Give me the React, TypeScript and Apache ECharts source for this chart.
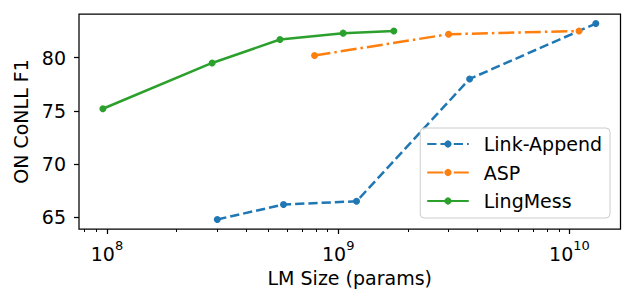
import React, { useEffect, useRef } from 'react';
import * as echarts from 'echarts';

const seriesNames = ['Link-Append', 'ASP', 'LingMess'];
const linkAppendX = [3.0e8, 5.8e8, 1.2e9, 3.7e9, 1.3e10];
const linkAppendY = [64.8, 66.2, 66.5, 78.0, 83.2];
const aspX = [7.9e8, 3.0e9, 1.1e10];
const aspY = [80.2, 82.2, 82.5];
const lingMessX = [9.6e7, 2.85e8, 5.6e8, 1.05e9, 1.74e9];
const lingMessY = [75.2, 79.5, 81.7, 82.3, 82.5];

const xMajorTicks = [1e8, 1e9, 1e10];
const xMinorTicks = [
  8e7, 9e7,
  2e8, 3e8, 4e8, 5e8, 6e8, 7e8, 8e8, 9e8,
  2e9, 3e9, 4e9, 5e9, 6e9, 7e9, 8e9, 9e9,
];
const yTicks = [65, 70, 75, 80];

const xTitle = 'LM Size (params)';
const yTitle = 'ON CoNLL F1';

const FONT = 'DejaVu Sans';
const FS = 19;

function pairs(xs: number[], ys: number[]) {
  return xs.map((x, i) => [x, ys[i]]);
}

export default function App() {
  const ref = useRef<HTMLDivElement>(null);
  useEffect(() => {
    if (!ref.current) return;
    const chart = echarts.init(ref.current, undefined, { renderer: 'svg' });
    const xMin = 7.57e7;
    const xMax = 1.662e10;
    const lw = 2.5;
    const supFmt = (v: number) => {
      const e = v > 100 ? Math.round(Math.log10(v)) : Math.round(v);
      return '{base|10}{sup|' + e + '}';
    };
    chart.setOption({
      animation: false,
      textStyle: { fontFamily: FONT },
      grid: {
        left: 79,
        right: 13.5,
        top: 14,
        bottom: 76,
        show: true,
        borderColor: '#000',
        borderWidth: 1.25,
        backgroundColor: 'transparent',
      },
      legend: {
        orient: 'vertical',
        right: 24,
        top: 128,
        data: seriesNames,
        itemWidth: 41.5,
        itemHeight: 9,
        itemGap: 8.5,
        padding: [6, 8, 7, 6],
        backgroundColor: 'rgba(255,255,255,0.8)',
        borderColor: '#cccccc',
        borderWidth: 1,
        borderRadius: 4,
        textStyle: {
          fontFamily: FONT,
          fontSize: FS,
          color: '#000',
          lineHeight: 20,
          padding: [0, 0, 0, 10],
        },
      },
      xAxis: [
        {
          type: 'log',
          logBase: 10,
          min: xMin,
          max: xMax,
          name: xTitle,
          nameLocation: 'middle',
          nameGap: 39,
          nameTextStyle: { fontFamily: FONT, fontSize: FS, color: '#000' },
          axisLine: { show: false },
          splitLine: { show: false },
          axisTick: {
            show: true,
            length: 5,
            lineStyle: { color: '#000', width: 1.25 },
            customValues: xMajorTicks,
          },
          axisLabel: {
            show: true,
            margin: 10,
            customValues: xMajorTicks,
            formatter: supFmt,
            rich: {
              base: { fontFamily: FONT, fontSize: FS, color: '#000', lineHeight: 24, verticalAlign: 'bottom' },
              sup: { fontFamily: FONT, fontSize: 13, color: '#000', lineHeight: 14, verticalAlign: 'top' },
            },
          },
        },
        {
          type: 'log',
          logBase: 10,
          min: xMin,
          max: xMax,
          position: 'bottom',
          axisLine: { show: false },
          splitLine: { show: false },
          axisLabel: { show: false },
          axisTick: {
            show: true,
            length: 3,
            lineStyle: { color: '#000', width: 1 },
            customValues: xMinorTicks,
          },
        },
      ],
      yAxis: {
        type: 'value',
        min: 63.9,
        max: 84.1,
        name: yTitle,
        nameLocation: 'middle',
        nameGap: 48,
        nameTextStyle: { fontFamily: FONT, fontSize: FS, color: '#000' },
        axisLine: { show: false },
        splitLine: { show: false },
        axisTick: {
          show: true,
          length: 5,
          lineStyle: { color: '#000', width: 1.25 },
          customValues: yTicks,
        },
        axisLabel: {
          show: true,
          margin: 13,
          fontFamily: FONT,
          fontSize: FS,
          color: '#000',
          customValues: yTicks,
        },
      },
      series: [
        {
          name: seriesNames[0],
          type: 'line',
          data: pairs(linkAppendX, linkAppendY),
          symbol: 'circle',
          symbolSize: 7,
          color: '#1f77b4',
          lineStyle: { width: lw, type: [9.25, 4], color: '#1f77b4' },
          itemStyle: { color: '#1f77b4' },
        },
        {
          name: seriesNames[1],
          type: 'line',
          data: pairs(aspX, aspY),
          symbol: 'circle',
          symbolSize: 7,
          color: '#ff7f0e',
          lineStyle: { width: lw, type: [16, 4, 2.5, 4], color: '#ff7f0e' },
          itemStyle: { color: '#ff7f0e' },
        },
        {
          name: seriesNames[2],
          type: 'line',
          data: pairs(lingMessX, lingMessY),
          symbol: 'circle',
          symbolSize: 7,
          color: '#2ca02c',
          lineStyle: { width: lw, type: 'solid', color: '#2ca02c' },
          itemStyle: { color: '#2ca02c' },
        },
      ],
    });
    return () => chart.dispose();
  }, []);
  return (
    <div
      ref={ref}
      style={{ position: 'fixed', left: 0, top: 0, width: 634, height: 305, background: '#fff' }}
    />
  );
}
